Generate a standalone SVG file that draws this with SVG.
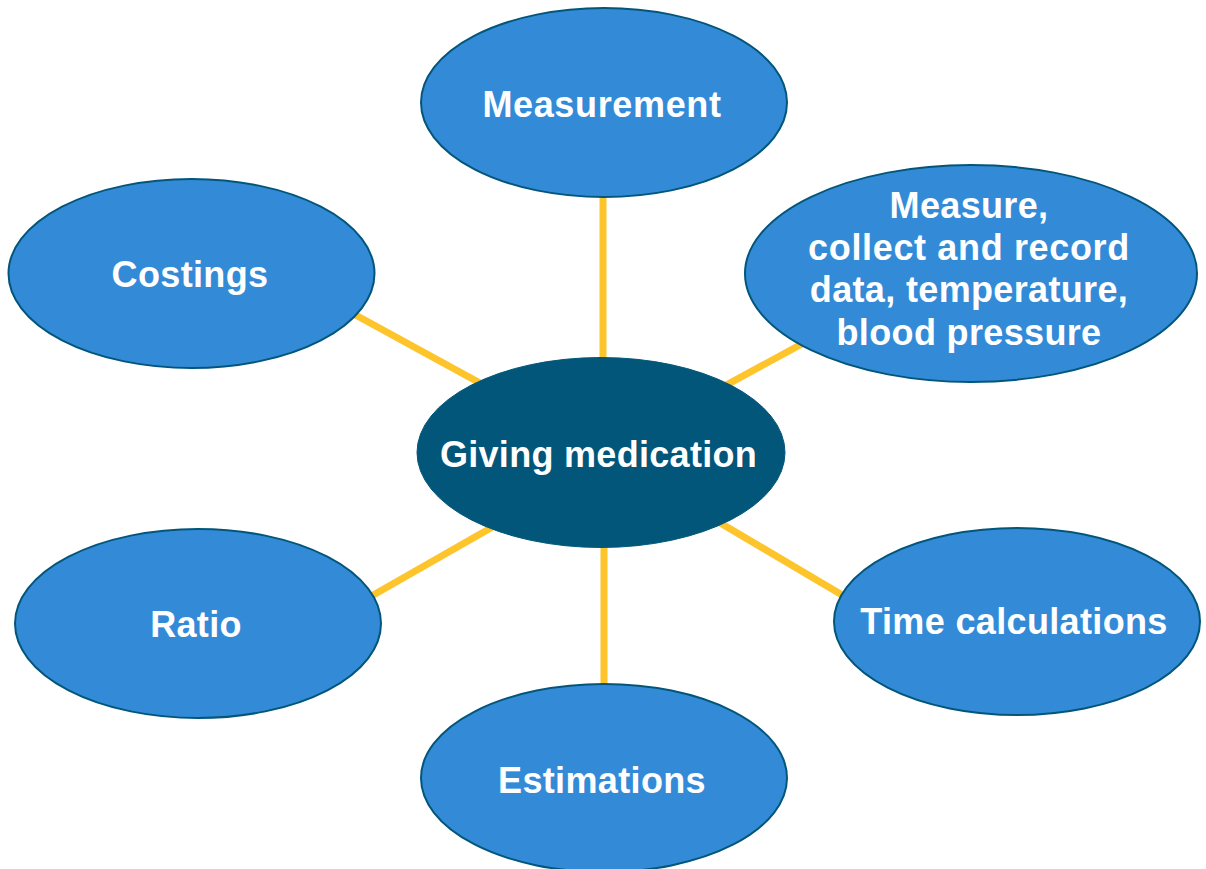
<svg xmlns="http://www.w3.org/2000/svg" width="1206" height="869" viewBox="0 0 1206 869">
<style>
.bg{fill:#ffffff}
.conn line{stroke:#fdc52b;stroke-width:7}
.node{fill:#338bd8;stroke:#03567a;stroke-width:2}
.hub{fill:#02567a;stroke:#02567a;stroke-width:1}
text{font-family:"Liberation Sans",Arial,sans-serif;font-weight:bold;font-size:36px;fill:#ffffff;text-anchor:middle;letter-spacing:0.35px}
</style>
<rect class="bg" x="0" y="0" width="1206" height="869"/>
<g id="connectors" class="conn">
<line x1="603" y1="150" x2="603" y2="400"/>
<line x1="604" y1="500" x2="604" y2="730"/>
<line x1="330" y1="301" x2="510" y2="399.5"/>
<line x1="700" y1="399.3" x2="830" y2="328.7"/>
<line x1="340" y1="614" x2="510" y2="517"/>
<line x1="700" y1="511" x2="870" y2="611.6"/>
</g>
<g id="measurement">
<ellipse class="node" cx="604" cy="102.5" rx="183" ry="94.5"/>
<text x="602" y="117" style="letter-spacing:0.65px">Measurement</text>
</g>
<g id="measure-collect">
<ellipse class="node" cx="971" cy="273.5" rx="226" ry="108.5"/>
<text x="969" y="218">Measure,</text>
<text x="969" y="260" style="letter-spacing:0.65px">collect and record</text>
<text x="969" y="302">data, temperature,</text>
<text x="969" y="345">blood pressure</text>
</g>
<g id="costings">
<ellipse class="node" cx="191.5" cy="273.5" rx="183" ry="94.5"/>
<text x="190" y="287">Costings</text>
</g>
<g id="ratio">
<ellipse class="node" cx="198" cy="623.5" rx="183" ry="94.5"/>
<text x="196" y="637">Ratio</text>
</g>
<g id="time-calculations">
<ellipse class="node" cx="1017" cy="621.5" rx="183" ry="93.5"/>
<text x="1014" y="634">Time calculations</text>
</g>
<g id="estimations">
<ellipse class="node" cx="604" cy="778" rx="183" ry="94"/>
<text x="602" y="793">Estimations</text>
</g>
<g id="giving-medication">
<ellipse class="hub" cx="601" cy="452.5" rx="184" ry="95"/>
<text x="598.5" y="467" style="letter-spacing:0.3px">Giving medication</text>
</g>
</svg>
